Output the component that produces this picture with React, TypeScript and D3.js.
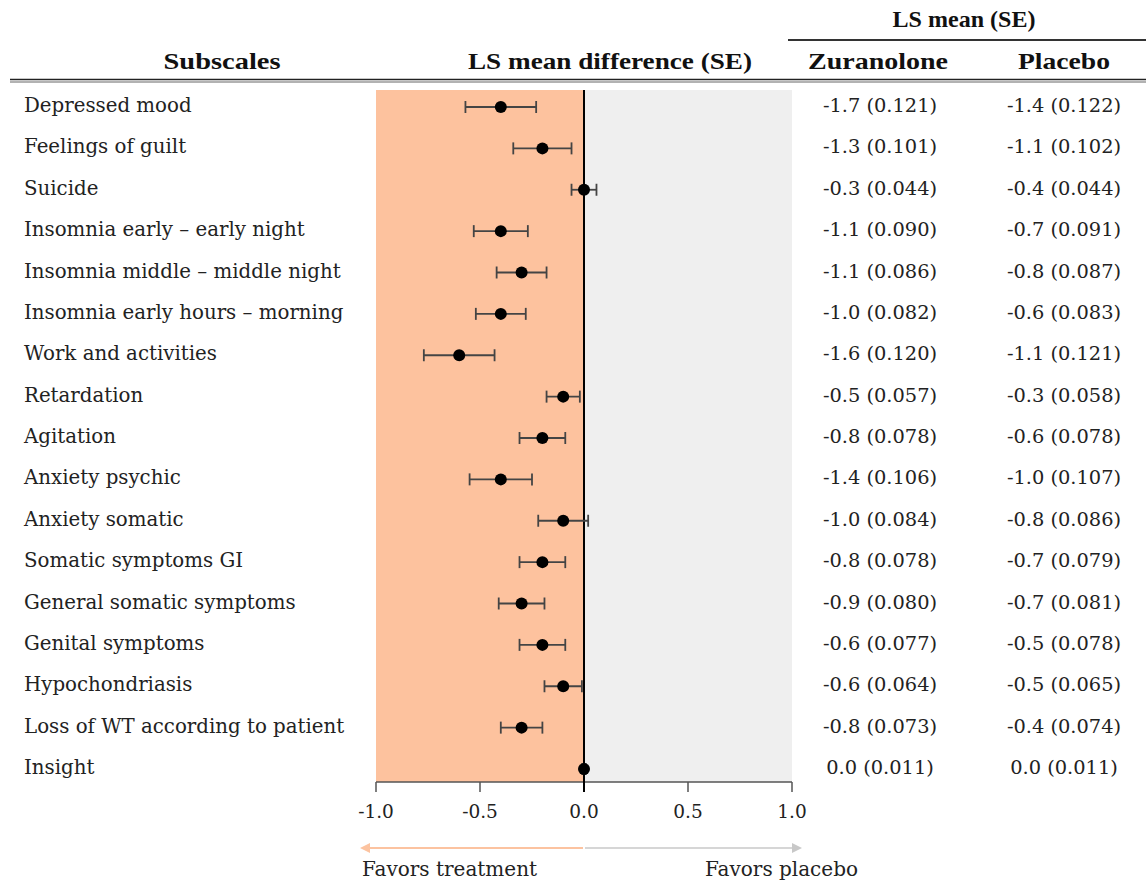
import React from "react";
import * as d3 from "d3";

const subscales = [
  "Depressed mood",
  "Feelings of guilt",
  "Suicide",
  "Insomnia early \u2013 early night",
  "Insomnia middle \u2013 middle night",
  "Insomnia early hours \u2013 morning",
  "Work and activities",
  "Retardation",
  "Agitation",
  "Anxiety psychic",
  "Anxiety somatic",
  "Somatic symptoms GI",
  "General somatic symptoms",
  "Genital symptoms",
  "Hypochondriasis",
  "Loss of WT according to patient",
  "Insight",
];

const diffMean = [-0.4, -0.2, 0.0, -0.4, -0.3, -0.4, -0.6, -0.1, -0.2, -0.4, -0.1, -0.2, -0.3, -0.2, -0.1, -0.3, 0.0];
const diffSE = [0.17, 0.14, 0.06, 0.13, 0.12, 0.12, 0.17, 0.08, 0.11, 0.15, 0.12, 0.11, 0.11, 0.11, 0.09, 0.1, 0.008];

const zuranolone = [
  "-1.7 (0.121)", "-1.3 (0.101)", "-0.3 (0.044)", "-1.1 (0.090)", "-1.1 (0.086)", "-1.0 (0.082)",
  "-1.6 (0.120)", "-0.5 (0.057)", "-0.8 (0.078)", "-1.4 (0.106)", "-1.0 (0.084)", "-0.8 (0.078)",
  "-0.9 (0.080)", "-0.6 (0.077)", "-0.6 (0.064)", "-0.8 (0.073)", "0.0 (0.011)",
];
const placebo = [
  "-1.4 (0.122)", "-1.1 (0.102)", "-0.4 (0.044)", "-0.7 (0.091)", "-0.8 (0.087)", "-0.6 (0.083)",
  "-1.1 (0.121)", "-0.3 (0.058)", "-0.6 (0.078)", "-1.0 (0.107)", "-0.8 (0.086)", "-0.7 (0.079)",
  "-0.7 (0.081)", "-0.5 (0.078)", "-0.5 (0.065)", "-0.4 (0.074)", "0.0 (0.011)",
];

const xTicks = [-1, -0.5, 0, 0.5, 1];

const W = 1146;
const H = 884;
const serif = "'DejaVu Serif', serif";
const headFont = "'Liberation Serif', serif";

export default function App() {
  const x = d3.scaleLinear().domain([-1, 1]).range([376, 792]);
  const y = d3.scalePoint<string>().domain(subscales).range([106, 768]);
  const top = 90;
  const axisY = 782;
  const fmt = (v: number) => d3.format(".1f")(v).replace("\u2212", "-");

  return (
    <svg width={W} height={H} style={{ position: "absolute", left: 0, top: 0, background: "#fff" }}>
      <defs>
        <marker id="arrL" viewBox="0 0 10 10" refX="2" refY="5" markerWidth="5" markerHeight="5" orient="auto">
          <path d="M0,0 L10,5 L0,10 z" fill="#fcc3a0" />
        </marker>
        <marker id="arrR" viewBox="0 0 10 10" refX="8" refY="5" markerWidth="5" markerHeight="5" orient="auto">
          <path d="M0,0 L10,5 L0,10 z" fill="#c8c8c8" />
        </marker>
      </defs>

      {/* headers */}
      <g fontFamily={headFont} fontWeight="bold" fontSize={23} fill="#111" textAnchor="middle">
        <text x={964} y={27} textLength={143} lengthAdjust="spacingAndGlyphs">LS mean (SE)</text>
        <text x={222} y={69} textLength={117} lengthAdjust="spacingAndGlyphs">Subscales</text>
        <text x={610} y={69} textLength={284} lengthAdjust="spacingAndGlyphs">LS mean difference (SE)</text>
        <text x={878} y={69} textLength={140} lengthAdjust="spacingAndGlyphs">Zuranolone</text>
        <text x={1064} y={69} textLength={92} lengthAdjust="spacingAndGlyphs">Placebo</text>
      </g>
      <line x1={788} x2={W} y1={40} y2={40} stroke="#333" strokeWidth={2} />
      <line x1={10} x2={W} y1={79.5} y2={79.5} stroke="#222" strokeWidth={1.5} />
      <line x1={10} x2={W} y1={82} y2={82} stroke="#666" strokeWidth={1.2} />

      {/* background panels */}
      <rect x={x(-1)} y={top} width={x(0) - x(-1)} height={axisY - top} fill="#fdc29e" />
      <rect x={x(0)} y={top} width={x(1) - x(0)} height={axisY - top} fill="#efefef" />

      {/* axis */}
      <line x1={x(-1)} x2={x(1)} y1={axisY} y2={axisY} stroke="#555" strokeWidth={1.5} />
      {xTicks.map((t) => (
        <g key={t}>
          <line x1={x(t)} x2={x(t)} y1={axisY} y2={axisY + 10} stroke="#555" strokeWidth={1.5} />
          <text x={x(t)} y={axisY + 36} textAnchor="middle" fontFamily={serif} fontSize={18.5} fill="#222">
            {fmt(t)}
          </text>
        </g>
      ))}
      <line x1={x(0)} x2={x(0)} y1={top} y2={axisY + 10} stroke="#000" strokeWidth={2} />

      {/* rows */}
      {subscales.map((s, i) => {
        const cy = y(s) as number;
        const lo = x(diffMean[i] - diffSE[i]);
        const hi = x(diffMean[i] + diffSE[i]);
        return (
          <g key={s}>
            <text x={24} y={cy + 6} fontFamily={serif} fontSize={19.8} fill="#222">{s}</text>
            <line x1={lo} x2={hi} y1={cy + 1} y2={cy + 1} stroke="#444" strokeWidth={1.8} />
            <line x1={lo} x2={lo} y1={cy - 5} y2={cy + 7} stroke="#444" strokeWidth={1.8} />
            <line x1={hi} x2={hi} y1={cy - 5} y2={cy + 7} stroke="#444" strokeWidth={1.8} />
            <circle cx={x(diffMean[i])} cy={cy + 1} r={6} fill="#000" />
            <text x={880} y={cy + 6} textAnchor="middle" fontFamily={serif} fontSize={19.4} fill="#222">{zuranolone[i]}</text>
            <text x={1064} y={cy + 6} textAnchor="middle" fontFamily={serif} fontSize={19.4} fill="#222">{placebo[i]}</text>
          </g>
        );
      })}

      {/* direction arrows */}
      <line x1={x(0) - 1} x2={x(-1) - 8} y1={848} y2={848} stroke="#fcc3a0" strokeWidth={2} markerEnd="url(#arrL)" />
      <line x1={x(0) + 1} x2={x(1) + 8} y1={848} y2={848} stroke="#d6d6d6" strokeWidth={2} markerEnd="url(#arrR)" />
      <text x={362} y={876} fontFamily={serif} fontSize={20} fill="#222">Favors treatment</text>
      <text x={858} y={876} textAnchor="end" fontFamily={serif} fontSize={20} fill="#222">Favors placebo</text>
    </svg>
  );
}
